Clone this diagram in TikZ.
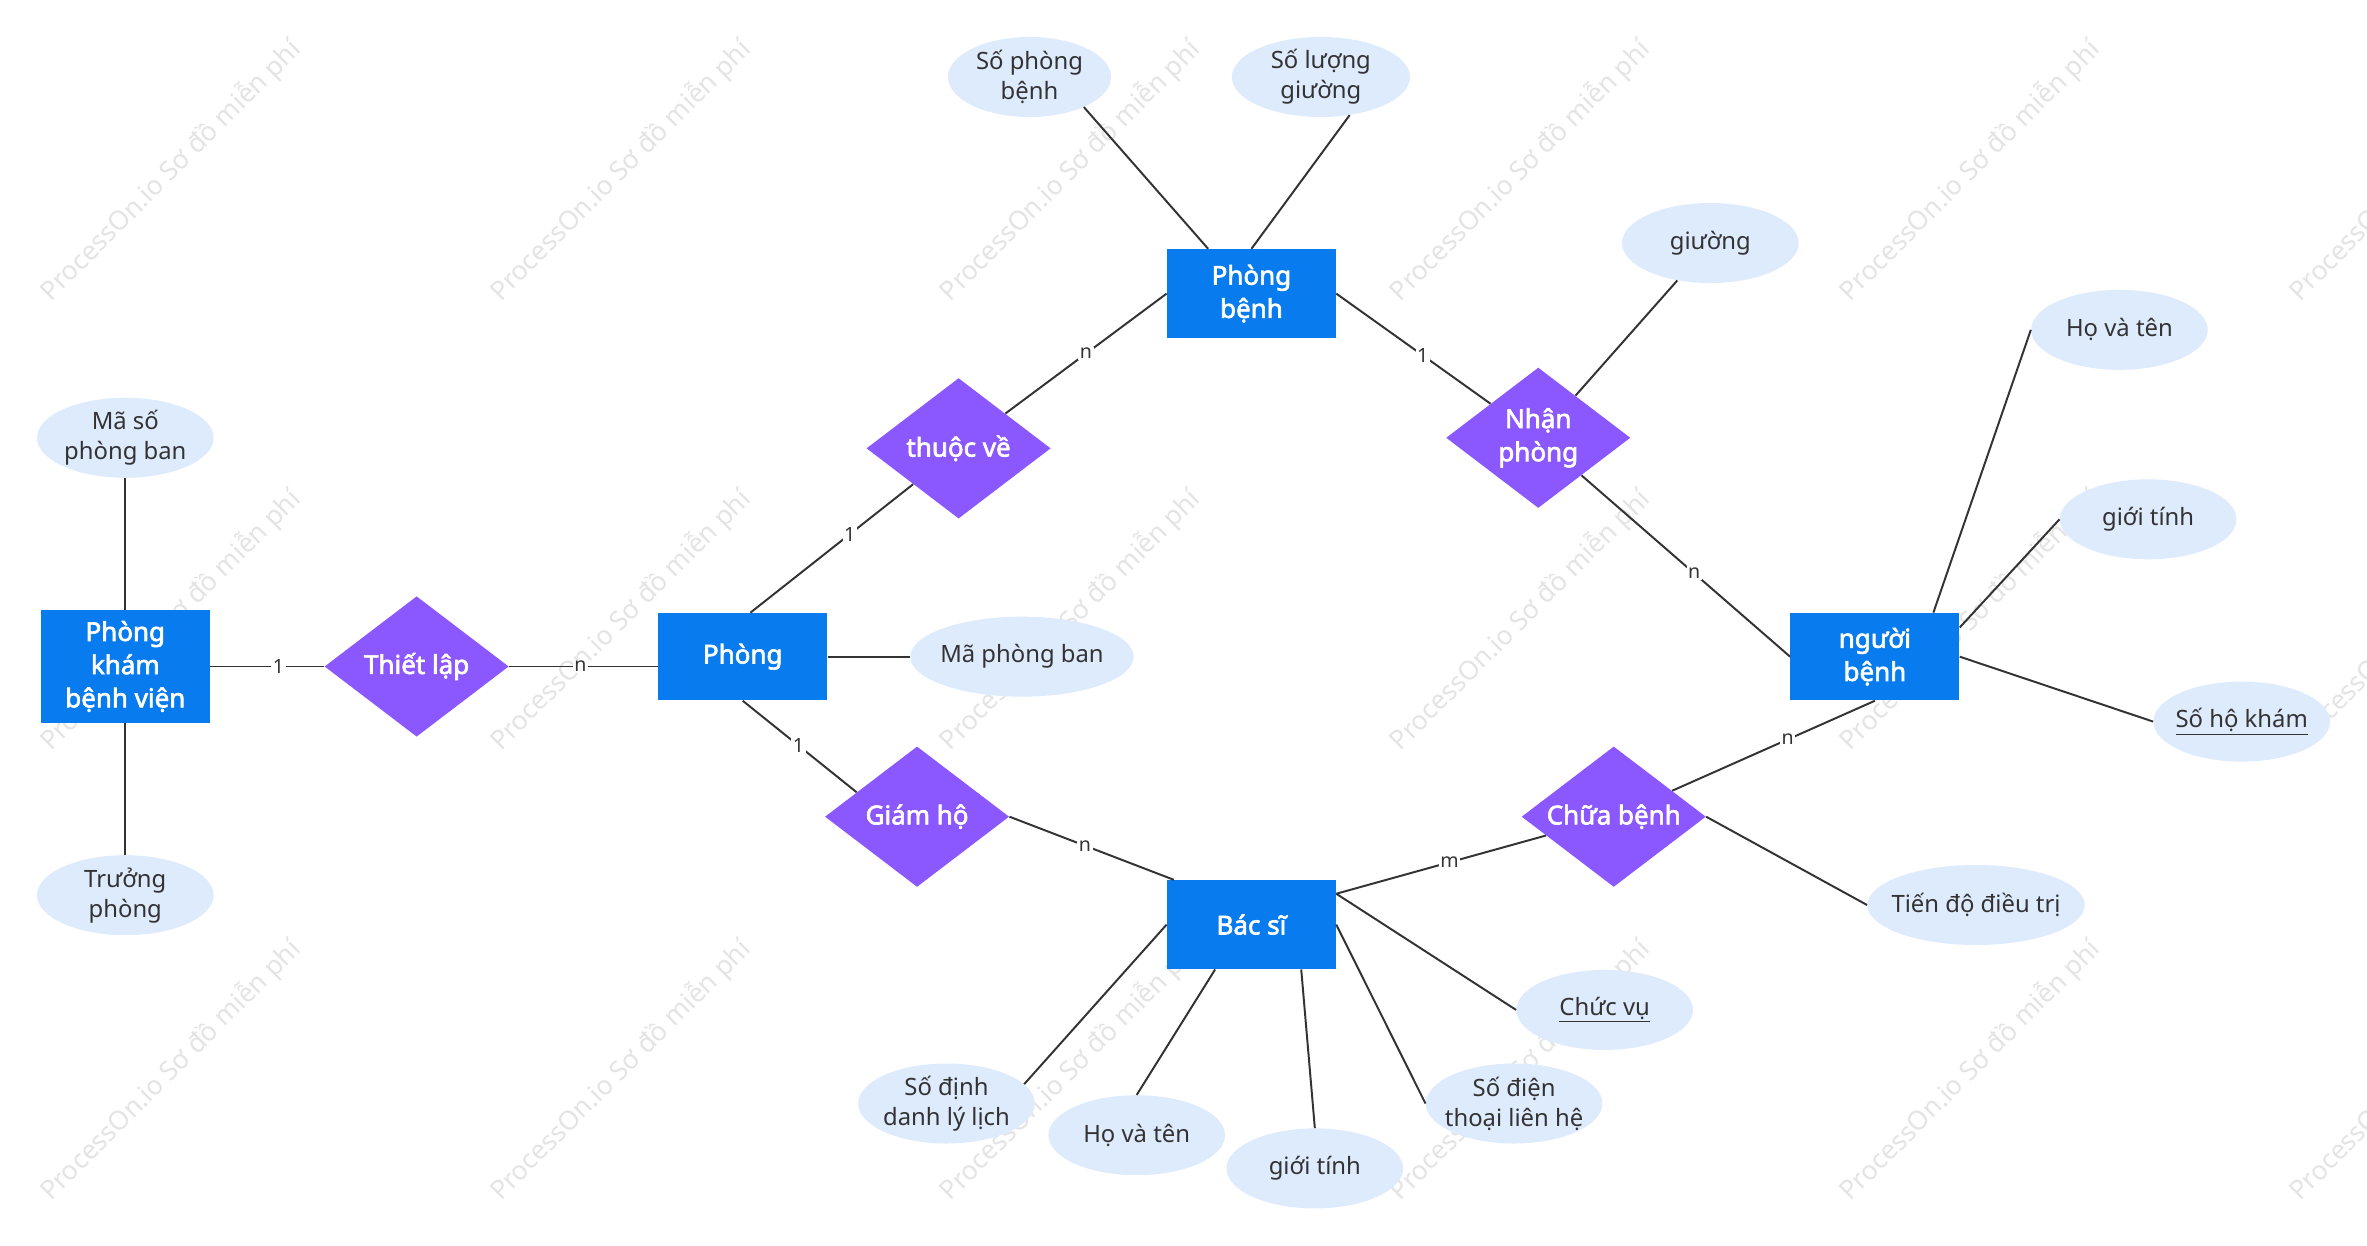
\documentclass[tikz,border=0pt]{standalone}
\usepackage{fontspec}
\setmainfont{Noto Sans}
\IfFontExistsTF{Noto Sans Bold}
    {\newfontfamily\boldsans{Noto Sans Bold}}
    {\newfontfamily\boldsans{Noto Sans}[FakeBold=2.5]}
\usetikzlibrary{shapes.geometric}

\definecolor{entityblue}{RGB}{8,123,239}
\definecolor{relpurple}{RGB}{139,87,255}
\definecolor{attrfill}{RGB}{222,235,253}
\definecolor{inkgray}{RGB}{51,51,51}
\definecolor{markgray}{RGB}{228,228,228}

\begin{document}
\begin{tikzpicture}[
    x=1pt, y=-1pt,
    entity/.style={
        rectangle,
        fill=entityblue,
        text=white,
        align=center,
        font=\boldsans\fontsize{17.2}{22}\selectfont,
        inner sep=2pt,
        minimum width=112pt,
        minimum height=59pt
    },
    relation/.style={
        diamond,
        aspect=1.31,
        fill=relpurple,
        text=white,
        align=center,
        font=\boldsans\fontsize{17.2}{22}\selectfont,
        inner sep=0pt,
        minimum width=122pt,
        minimum height=93pt
    },
    attr/.style={
        ellipse,
        fill=attrfill,
        text=inkgray,
        align=center,
        font=\fontsize{15.8}{20}\selectfont,
        inner xsep=-10pt,
        inner ysep=0pt,
        minimum width=117pt,
        minimum height=53pt
    },
    link/.style={draw=inkgray, line width=1.3pt},
    card/.style={fill=white, text=inkgray, font=\fontsize{13}{13}\selectfont, inner sep=1pt},
    watermark/.style={text=markgray, rotate=45, font=\fontsize{17.5}{18}\selectfont}
]

\fill[white] (0,0) rectangle (1568,825);
\useasboundingbox (0,0) rectangle (1568,825);

% watermark grid
\foreach \wx in {113,411,709,1007,1305,1603}
    \foreach \wy in {113,411,709}
        \node[watermark] (wm-\wx-\wy) at (\wx,\wy) {ProcessOn.io Sơ đồ miễn phí};

% entities
\node[entity, minimum height=75pt] (pkbv) at (83,441.5) {Phòng\\khám\\bệnh viện};
\node[entity, minimum height=58pt] (phong) at (492,435) {Phòng};
\node[entity] (phongbenh) at (829,194.5) {Phòng\\bệnh};
\node[entity, minimum height=58pt] (nguoibenh) at (1242,435) {người\\bệnh};
\node[entity] (bacsi) at (829,612.5) {Bác sĩ};

% relationships
\node[relation] (thietlap) at (276,441.5) {Thiết lập};
\node[relation] (thuocve) at (635,297) {thuộc về};
\node[relation] (nhanphong) at (1019,290) {Nhận\\phòng};
\node[relation] (giamho) at (607.5,541) {Giám hộ};
\node[relation] (chuabenh) at (1069,541) {Chữa bệnh};

% attributes
\node[attr] (masopb) at (83,290) {Mã số\\phòng ban};
\node[attr] (truongphong) at (83,593) {Trưởng\\phòng};
\node[attr, minimum width=148pt] (maphongban) at (677,435) {Mã phòng ban};
\node[attr, minimum width=108pt] (sophongbenh) at (682,51) {Số phòng\\bệnh};
\node[attr, minimum width=118pt] (soluonggiuong) at (875,51) {Số lượng\\giường};
\node[attr] (giuong) at (1133,161) {giường};
\node[attr] (hovatenbn) at (1404,218.5) {Họ và tên};
\node[attr] (gioitinhbn) at (1423,344) {giới tính};
\node[attr] (sohokham) at (1485,478) {\underline{Số hộ khám}};
\node[attr, minimum width=144pt] (tiendo) at (1309,599.5) {Tiến độ điều trị};
\node[attr] (chucvu) at (1063,669) {\underline{Chức vụ}};
\node[attr] (sodienthoai) at (1003,731) {Số điện\\thoại liên hệ};
\node[attr] (gioitinhbs) at (871,774) {giới tính};
\node[attr] (hovatenbs) at (753,752) {Họ và tên};
\node[attr] (sodinhdanh) at (627,731) {Số định\\danh lý lịch};

% links
\draw[link] (pkbv.north) -- (masopb.south);
\draw[link] (pkbv.south) -- (truongphong.north);
\draw[link] (pkbv.east) -- node[card, pos=0.6] (c-pkbv) {1} (thietlap.west);
\draw[link] (thietlap.east) -- node[card, pos=0.48] (c-phong-tl) {n} (thietlap.east -| phong.west);
\draw[link] (phong.east) -- (maphongban.west);
\draw[link] (phong.80) -- node[card, pos=0.61] (c-phong-tv) {1} (thuocve);
\draw[link] (thuocve) -- node[card, pos=0.5] (c-phongbenh-tv) {n} (phongbenh.west);
\draw[link] (phongbenh.134) -- (sophongbenh.-29);
\draw[link] (phongbenh.north) -- (soluonggiuong.-53);
\draw[link] (phongbenh.east) -- node[card, pos=0.56] (c-phongbenh-np) {1} (nhanphong);
\draw[link] (nhanphong) -- (giuong);
\draw[link] (nhanphong) -- node[card, pos=0.54] (c-nguoibenh-np) {n} (nguoibenh.west);
\draw[link] (nguoibenh.37) -- (hovatenbn.west);
\draw[link] (nguoibenh.19) -- (gioitinhbn.west);
\draw[link] (nguoibenh.east) -- (sohokham.west);
\draw[link] (nguoibenh.south) -- node[card, pos=0.43] (c-nguoibenh-cb) {n} (chuabenh);
\draw[link] (chuabenh.east) -- (tiendo.west);
\draw[link] (chuabenh) -- node[card, pos=0.46] (c-bacsi-cb) {m} (bacsi.20);
\draw[link] (phong.south) -- node[card, pos=0.49] (c-phong-gh) {1} (giamho.158);
\draw[link] (giamho.east) -- node[card, pos=0.46] (c-bacsi-gh) {n} (bacsi.150);
\draw[link] (bacsi.20) -- (chucvu.west);
\draw[link] (bacsi.east) -- (sodienthoai.west);
\draw[link] (bacsi.-42) -- (gioitinhbs.north);
\draw[link] (bacsi.-129) -- (hovatenbs.north);
\draw[link] (bacsi.west) -- (sodinhdanh.14);

\end{tikzpicture}
\end{document}
